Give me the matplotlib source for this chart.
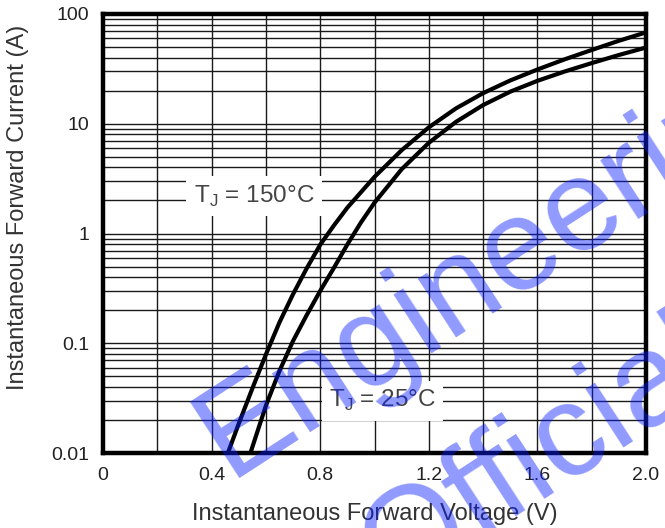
import matplotlib
matplotlib.use("Agg")
import matplotlib.pyplot as plt
from matplotlib.ticker import FixedLocator, FixedFormatter, NullFormatter

plt.rcParams['font.family'] = ['Liberation Sans', 'DejaVu Sans']

# Data (V in volts, I in amperes)
v_150 = [0.46, 0.50, 0.55, 0.60, 0.65, 0.70, 0.75, 0.80, 0.85, 0.90, 1.00,
         1.10, 1.20, 1.30, 1.40, 1.50, 1.60, 1.70, 1.80, 1.90, 2.00]
i_150 = [0.01, 0.0185, 0.0387, 0.079, 0.155, 0.28, 0.48, 0.79, 1.18, 1.72, 3.28,
         5.74, 9.27, 13.8, 19.0, 24.8, 31.2, 38.6, 47, 57, 68]

v_25 = [0.543, 0.60, 0.65, 0.70, 0.75, 0.80, 0.85, 0.90, 0.95, 1.00, 1.10,
        1.20, 1.30, 1.40, 1.50, 1.60, 1.70, 1.80, 1.90, 2.00]
i_25 = [0.01, 0.027, 0.056, 0.105, 0.18, 0.30, 0.484, 0.794, 1.26, 1.91, 3.85,
        6.7, 10.4, 14.8, 19.6, 24.6, 29.9, 35.7, 42.3, 49.5]

x_major = [0, 0.4, 0.8, 1.2, 1.6, 2.0]
x_major_labels = ['0', '0.4', '0.8', '1.2', '1.6', '2.0']
x_minor = [0.2, 0.6, 1.0, 1.4, 1.8]
y_major = [0.01, 0.1, 1, 10, 100]
y_major_labels = ['0.01', '0.1', '1', '10', '100']
y_minor = [m * d for d in (0.01, 0.1, 1, 10) for m in range(2, 10)]

fig = plt.figure(figsize=(6.65, 5.28), dpi=100)
ax = fig.add_axes([103 / 665, 75 / 528, 543 / 665, 439 / 528])
ax.set_yscale('log')
ax.set_xlim(0, 2.0)
ax.set_ylim(0.01, 100)

ax.xaxis.set_major_locator(FixedLocator(x_major))
ax.xaxis.set_major_formatter(FixedFormatter(x_major_labels))
ax.xaxis.set_minor_locator(FixedLocator(x_minor))
ax.xaxis.set_minor_formatter(NullFormatter())
ax.yaxis.set_major_locator(FixedLocator(y_major))
ax.yaxis.set_major_formatter(FixedFormatter(y_major_labels))
ax.yaxis.set_minor_locator(FixedLocator(y_minor))
ax.yaxis.set_minor_formatter(NullFormatter())

ax.tick_params(which='both', length=0, labelsize=14, colors='#222222')
ax.tick_params(axis='x', pad=10)
ax.tick_params(axis='y', pad=10)
ax.grid(True, which='both', color='#1a1a1a', linewidth=1.0)
ax.set_axisbelow(True)
for s in ax.spines.values():
    s.set_linewidth(3.2)
    s.set_color('black')
    s.set_zorder(5)

ax.plot(v_150, i_150, color='black', linewidth=3.0, zorder=4)
ax.plot(v_25, i_25, color='black', linewidth=3.0, zorder=4)

box = dict(boxstyle='square,pad=0.3', facecolor='white', edgecolor='none')
ax.text(0.556, 2.2, r'T$_\mathregular{J}$ = 150°C', fontsize=17.5, color='#444444',
        ha='center', va='center', bbox=box, zorder=3)
ax.text(1.03, 0.03, r'T$_\mathregular{J}$ = 25°C', fontsize=17.5, color='#444444',
        ha='center', va='center', bbox=box, zorder=3)

ax.set_xlabel('Instantaneous Forward Voltage (V)', fontsize=17, color='#333333', labelpad=14)
ax.set_ylabel('Instantaneous Forward Current (A)', fontsize=17, color='#333333')
ax.yaxis.set_label_coords(-0.137, 0.56)

# Watermark
wm = dict(fontsize=94, color='#0a1eff', alpha=0.45, rotation=33,
          rotation_mode='anchor', ha='left', va='baseline', zorder=10)
fig.text(229 / 665, 1 - 478 / 528, 'Engineering', **wm)
fig.text(393 / 665, 1 - 593 / 528, 'Official', **wm)

fig.savefig('out.png', dpi=100)
